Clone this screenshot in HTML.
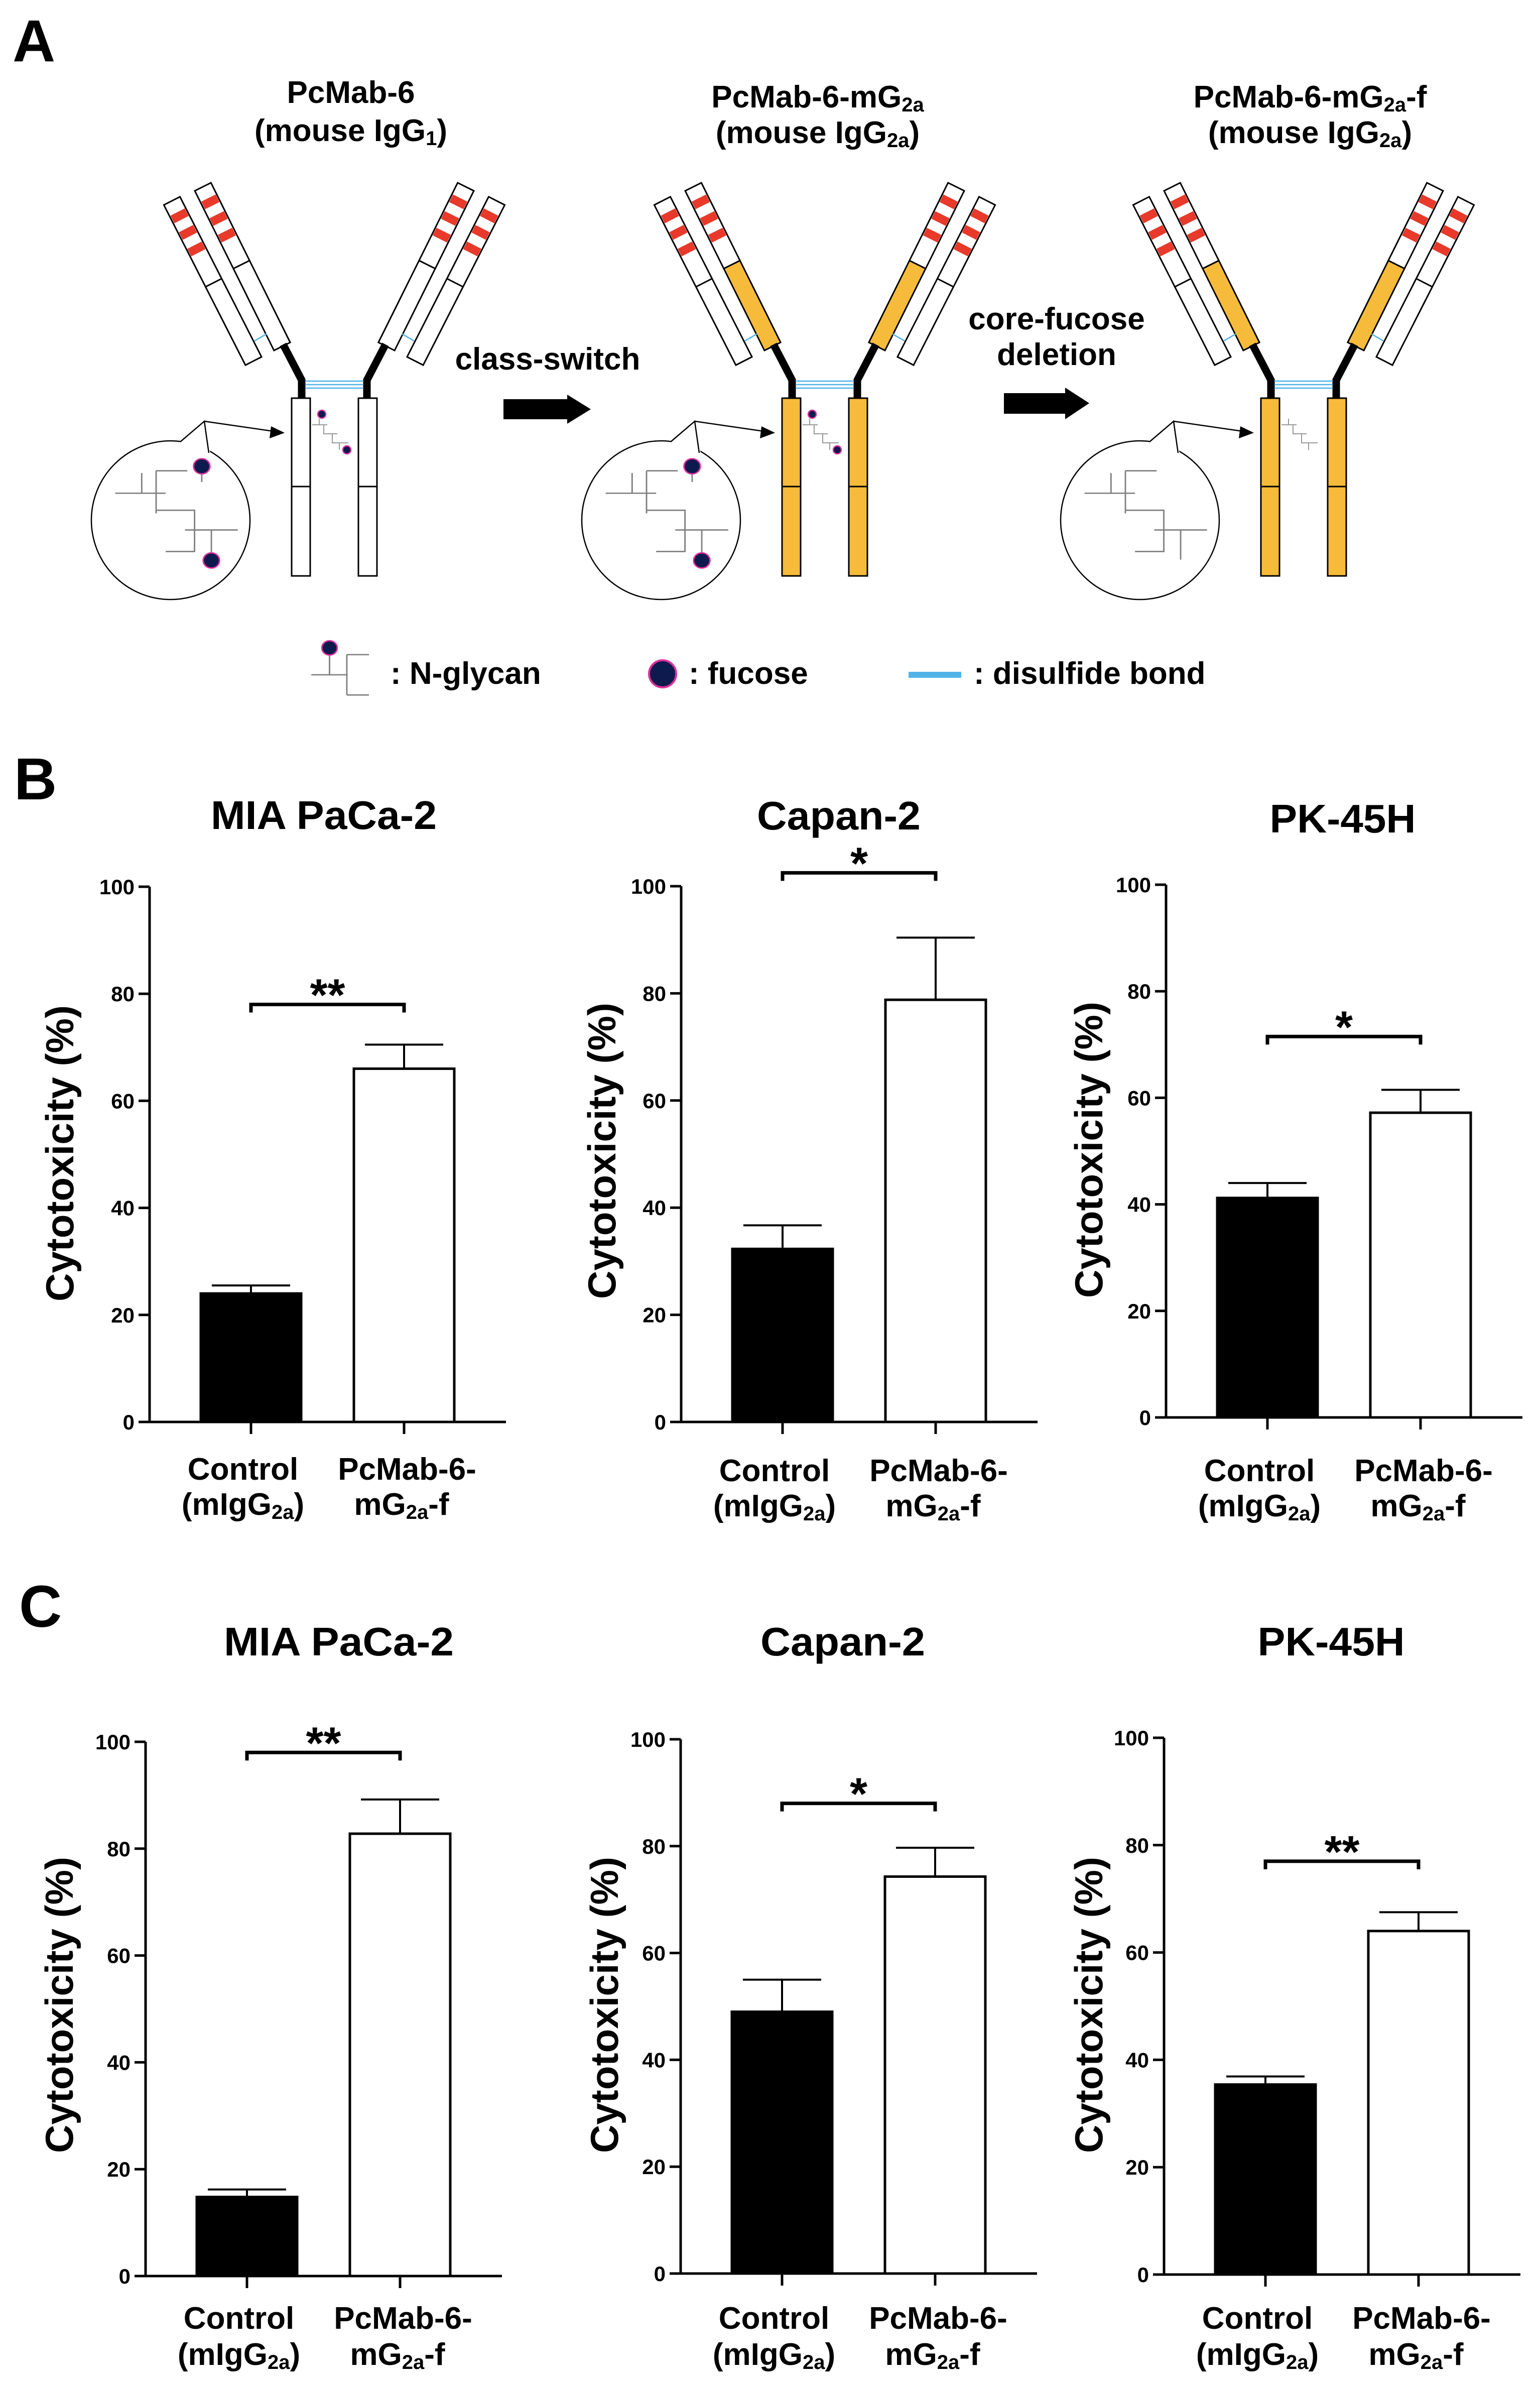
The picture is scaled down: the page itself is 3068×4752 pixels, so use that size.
<!DOCTYPE html>
<html><head><meta charset="utf-8"><style>
html,body{margin:0;padding:0;background:#fff;}
svg{display:block;font-family:"Liberation Sans",Arial,sans-serif;font-weight:bold;}
</style></head><body>
<svg id="fig" xmlns="http://www.w3.org/2000/svg" width="3068" height="4752" viewBox="0 0 3068 4752">
<rect x="0" y="0" width="3068" height="4752" fill="#fff"/>
<text x="25" y="122" font-size="118">A</text>
<text x="28" y="1592" font-size="118">B</text>
<text x="38" y="3240" font-size="118">C</text>

<!-- Panel A titles -->
<g font-size="62" text-anchor="middle">
<text x="699" y="205">PcMab-6</text>
<text x="699" y="281">(mouse IgG<tspan font-size="40" dy="8">1</tspan><tspan dy="-8">)</tspan></text>
<text x="1629" y="214">PcMab-6-mG<tspan font-size="40" dy="8">2a</tspan></text>
<text x="1629" y="285">(mouse IgG<tspan font-size="40" dy="8">2a</tspan><tspan dy="-8">)</tspan></text>
<text x="2610" y="214">PcMab-6-mG<tspan font-size="40" dy="8">2a</tspan><tspan dy="-8">-f</tspan></text>
<text x="2610" y="285">(mouse IgG<tspan font-size="40" dy="8">2a</tspan><tspan dy="-8">)</tspan></text>
<text x="1091" y="736">class-switch</text>
<text x="2105" y="656">core-fucose</text>
<text x="2105" y="727">deletion</text>
</g>
<polygon points="1003,795 1130,795 1130,786 1177,815 1130,844 1130,835 1003,835" fill="#000"/>
<polygon points="2000,783 2122,783 2122,772 2170,803 2122,835 2122,824 2000,824" fill="#000"/>

<!-- Antibody 1 -->
<g id="ab1">
  <g id="half1">
    <g transform="translate(505,719) rotate(-27)">
      <rect x="-18" y="-358" width="36" height="358" fill="#fff" stroke="#000" stroke-width="3"/>
      <line x1="-18" y1="-175" x2="18" y2="-175" stroke="#000" stroke-width="3"/>
      <rect x="-16" y="-333" width="32" height="17" fill="#e8392a"/>
      <rect x="-16" y="-296" width="32" height="17" fill="#e8392a"/>
      <rect x="-16" y="-259" width="32" height="17" fill="#e8392a"/>
    </g>
    <g transform="translate(562,690) rotate(-26.4)">
      <rect x="-18" y="-355" width="36" height="173" fill="#fff" stroke="#000" stroke-width="3"/>
      <rect class="cls" x="-18" y="-182" width="36" height="182" fill="#fff" stroke="#000" stroke-width="3"/>
      <rect x="-16" y="-330" width="32" height="17" fill="#e8392a"/>
      <rect x="-16" y="-293" width="32" height="17" fill="#e8392a"/>
      <rect x="-16" y="-256" width="32" height="17" fill="#e8392a"/>
    </g>
    <line x1="507" y1="679" x2="531" y2="665" stroke="#4fb3e8" stroke-width="2.5"/>
    <polyline points="564,686 601,757 601,795" fill="none" stroke="#000" stroke-width="15"/>
    <rect class="cls" x="581" y="793" width="37" height="176" fill="#fff" stroke="#000" stroke-width="3"/>
    <rect class="cls" x="581" y="969" width="37" height="178" fill="#fff" stroke="#000" stroke-width="3"/>
  </g>
  <g stroke="#4fb3e8" stroke-width="2.5">
    <line x1="608" y1="759" x2="724" y2="759"/>
    <line x1="608" y1="766" x2="724" y2="766"/>
    <line x1="608" y1="773" x2="724" y2="773"/>
  </g>
  <path d="M622 846 H652 M636 834 V846 M645 846 V864 H672 M662 864 V882 H694 M676 882 V896" fill="none" stroke="#999" stroke-width="2"/>
  <circle class="fuc" cx="641" cy="825" r="8" fill="#0d1a4e" stroke="#e0309a" stroke-width="2.5"/>
  <circle class="fuc" cx="691" cy="896" r="8" fill="#0d1a4e" stroke="#e0309a" stroke-width="2.5"/>
  <circle cx="340" cy="1036" r="158" fill="#fff" stroke="#000" stroke-width="2.5"/>
  <polygon points="352,886 407,839 420,908" fill="#fff"/>
  <polyline points="359,880 407,839 416,902" fill="none" stroke="#000" stroke-width="2.5"/>
  <line x1="407" y1="839" x2="545" y2="859" stroke="#000" stroke-width="2.5"/>
  <polygon points="567,862 540,849 537,873" fill="#000"/>
  <g transform="matrix(0.957 0 0 0.893 0 0)">
    <path d="M240 1100 H345 M295 1055 V1100 M325 1050 V1145 M325 1050 H390 M325 1138 H405 V1230 H345 M385 1182 H495 M440 1182 V1248" fill="none" stroke="#808080" stroke-width="3"/>
    <path class="fuc" d="M420 1040 V1075" stroke="#808080" stroke-width="3"/>
    <circle class="fuc" cx="420" cy="1040" r="17" fill="#0d1a4e" stroke="#e0309a" stroke-width="3"/>
    <circle class="fuc" cx="440" cy="1250" r="17" fill="#0d1a4e" stroke="#e0309a" stroke-width="3"/>
  </g>
</g>

<!-- Legend -->
<g>
  <g transform="matrix(0.957 0 0 0.893 0 0)">
    <path d="M686 1445 V1505 M648 1505 H722 M722 1460 V1550 M722 1460 H768 M722 1550 H768" fill="none" stroke="#808080" stroke-width="3"/>
    <circle cx="686" cy="1445" r="16" fill="#0d1a4e" stroke="#e0309a" stroke-width="3"/>
  </g>
  <text x="778" y="1362" font-size="62">: N-glycan</text>
  <circle cx="1320" cy="1342" r="27" fill="#0d1a4e" stroke="#e0309a" stroke-width="4"/>
  <text x="1372" y="1362" font-size="62">: fucose</text>
  <line x1="1810" y1="1344" x2="1915" y2="1344" stroke="#4fb3e8" stroke-width="12"/>
  <text x="1940" y="1362" font-size="62">: disulfide bond</text>
</g>

<g id="charts"></g>
</svg>
<script>
// ---------- Panel A: mirror half, clone antibodies ----------
const SVGNS = 'http://www.w3.org/2000/svg';
const ab1 = document.getElementById('ab1');
const half1 = document.getElementById('half1');
const mirror = half1.cloneNode(true);
mirror.removeAttribute('id');
mirror.setAttribute('transform', 'translate(1332,0) scale(-1,1)');


ab1.insertBefore(mirror, half1.nextSibling);

function makeAb(dx, name, keepFucose) {
  const c = ab1.cloneNode(true);
  c.removeAttribute('id');
  c.setAttribute('transform', 'translate(' + dx + ',0)');
  
  
  c.querySelectorAll('.cls').forEach(e => e.setAttribute('fill', '#f6bb3a'));
  if (!keepFucose) c.querySelectorAll('.fuc').forEach(e => e.remove());
  ab1.parentNode.insertBefore(c, ab1.nextSibling);
}
makeAb(977, 'antibody-pcmab6-mg2a', true);
makeAb(1931, 'antibody-pcmab6-mg2a-f', false);

// ---------- Charts data ----------
const categories = ['Control', 'PcMab-6-mG2a-f'];
const yTicks = [0, 20, 40, 60, 80, 100];
const titles = ['MIA PaCa-2', 'Capan-2', 'PK-45H', 'MIA PaCa-2', 'Capan-2', 'PK-45H'];
const b1Values = [24.0, 66.0];
const b1Errors = [1.5, 4.5];
const b2Values = [32.3, 78.8];
const b2Errors = [4.4, 11.6];
const b3Values = [41.2, 57.2];
const b3Errors = [2.8, 4.3];
const c1Values = [14.8, 82.8];
const c1Errors = [1.4, 6.4];
const c2Values = [49.0, 74.3];
const c2Errors = [6.0, 5.4];
const c3Values = [35.4, 64.0];
const c3Errors = [1.5, 3.5];
const sigLabels = ['**', '*', '*', '**', '*', '**'];
const sigLevels = [78, 102.5, 71.5, 98, 88, 77];

const seriesValues = [b1Values, b2Values, b3Values, c1Values, c2Values, c3Values];
const seriesErrors = [b1Errors, b2Errors, b3Errors, c1Errors, c2Errors, c3Errors];

// layout (pixels) per panel
const layout = [
  {ax: 298, y0: 2832, y100: 1766, titleX: 645, titleY: 1651, titleW: 450, labX: 146, labY: 2297, xl1: 2947, xl2: 3017},
  {ax: 1357, y0: 2832, y100: 1765, titleX: 1671, titleY: 1652, titleW: 326, labX: 1226, labY: 2292, xl1: 2950, xl2: 3020},
  {ax: 2323, y0: 2823, y100: 1762, titleX: 2675, titleY: 1658, titleW: 291, labX: 2196, labY: 2290, xl1: 2950, xl2: 3020},
  {ax: 290, y0: 4533, y100: 3469, titleX: 675, titleY: 3297, titleW: 458, labX: 145, labY: 3993, xl1: 4638, xl2: 4710},
  {ax: 1356, y0: 4528, y100: 3464, titleX: 1679, titleY: 3297, titleW: 328, labX: 1231, labY: 3993, xl1: 4638, xl2: 4710},
  {ax: 2319, y0: 4530, y100: 3461, titleX: 2652, titleY: 3297, titleW: 293, labX: 2196, labY: 3993, xl1: 4638, xl2: 4710}
];
const barOffsets = [202, 507];
const barWidth = 200;

const chartsG = document.getElementById('charts');
function el(tag, attrs, parent) {
  const e = document.createElementNS(SVGNS, tag);
  for (const k in attrs) e.setAttribute(k, attrs[k]);
  (parent || chartsG).appendChild(e);
  return e;
}

layout.forEach((L, p) => {
  const yScale = v => L.y0 - v / 100 * (L.y0 - L.y100);
  const xCenter = i => L.ax + barOffsets[i];
  const g = el('g', {});
  
  

  const t = el('text', {x: L.titleX, y: L.titleY, 'font-size': 80, 'text-anchor': 'middle', textLength: L.titleW, lengthAdjust: 'spacingAndGlyphs'}, g);
  t.textContent = titles[p];
  
  

  const yl = el('text', {x: 0, y: 0, 'font-size': 78, 'text-anchor': 'middle', transform: 'translate(' + L.labX + ',' + L.labY + ') rotate(-90)', textLength: 590, lengthAdjust: 'spacingAndGlyphs'}, g);
  yl.textContent = 'Cytotoxicity (%)';
  
  

  // bars
  seriesValues[p].forEach((v, i) => {
    const cx = xCenter(i);
    const top = yScale(v + seriesErrors[p][i]);
    const bot = yScale(v - seriesErrors[p][i]);
    const eb = el('path', {d: 'M' + (cx - 78) + ' ' + top + ' H' + (cx + 78) + ' M' + cx + ' ' + top + ' V' + bot + ' M' + (cx - 78) + ' ' + bot + ' H' + (cx + 78), stroke: '#000', 'stroke-width': 4, fill: 'none'}, g);
    
    
    const r = el('rect', {x: cx - barWidth / 2, y: yScale(v), width: barWidth, height: L.y0 - yScale(v), fill: i === 0 ? '#000' : '#fff', stroke: '#000', 'stroke-width': 5}, g);
    
    
  });

  // axes
  const axes = el('path', {d: 'M' + L.ax + ' ' + L.y100 + ' V' + L.y0 + ' M' + (L.ax - 22) + ' ' + L.y0 + ' H' + (L.ax + 710), stroke: '#000', 'stroke-width': 5, fill: 'none'}, g);
  
  
  yTicks.forEach(tv => {
    const ty = yScale(tv);
    const tk = el('line', {x1: L.ax - 22, y1: ty, x2: L.ax, y2: ty, stroke: '#000', 'stroke-width': 5}, g);
    
    
    const tl = el('text', {x: L.ax - 30, y: ty + 15, 'font-size': 42, 'text-anchor': 'end'}, g);
    tl.textContent = tv;
    
    
  });
  categories.forEach((c, i) => {
    const cx = xCenter(i);
    const tk = el('line', {x1: cx, y1: L.y0, x2: cx, y2: L.y0 + 24, stroke: '#000', 'stroke-width': 5}, g);
    
    
    const l1 = el('text', {x: cx - (i === 0 ? 16 : -6), y: L.xl1, 'font-size': 62, 'text-anchor': 'middle'}, g);
    
    
    const l2 = el('text', {x: cx - (i === 0 ? 16 : 5), y: L.xl2, 'font-size': 62, 'text-anchor': 'middle'}, g);
    
    
    if (i === 0) {
      l1.textContent = 'Control';
      l2.innerHTML = '(mIgG<tspan font-size="40" dy="8">2a</tspan><tspan dy="-8">)</tspan>';
    } else {
      l1.textContent = 'PcMab-6-';
      l2.innerHTML = 'mG<tspan font-size="40" dy="8">2a</tspan><tspan dy="-8">-f</tspan>';
    }
  });

  // significance bracket
  const by = yScale(sigLevels[p]);
  const x1 = xCenter(0), x2 = xCenter(1);
  const br = el('path', {d: 'M' + x1 + ' ' + (by + 16) + ' V' + by + ' H' + x2 + ' V' + (by + 16), stroke: '#000', 'stroke-width': 7, fill: 'none'}, g);
  
  
  const st = el('text', {x: (x1 + x2) / 2, y: by + 12, 'font-size': 90, 'text-anchor': 'middle'}, g);
  st.textContent = sigLabels[p];
  
  
});
</script>
</body></html>
